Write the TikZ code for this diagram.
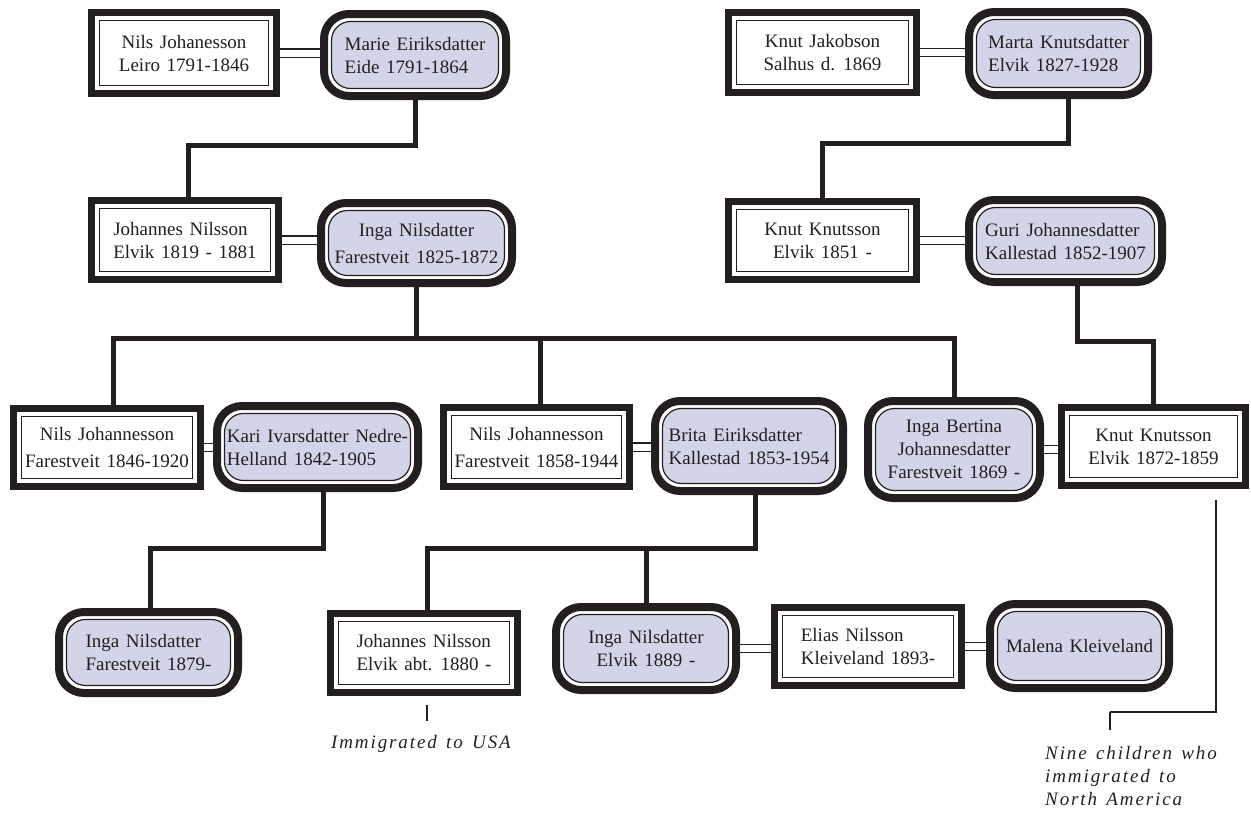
\documentclass[tikz,border=0pt]{standalone}
\usepackage{fontspec}
\setmainfont{Liberation Serif}[WordSpace=1.4]
\newfontfamily\notefont{Liberation Serif}[LetterSpace=10,WordSpace=1.4]
\usetikzlibrary{calc}
\definecolor{lav}{HTML}{D4D4E8}
\definecolor{ink}{HTML}{231F20}
\tikzset{
  sz/.style 2 args={minimum width=#1pt, minimum height=#2pt},
  person/.style={rectangle, draw=ink, fill=white, inner sep=0pt,
    text=ink, font=\fontsize{19}{23}\selectfont, align=center},
  man/.style={person, line width=6.5pt,
    path picture={\draw[ink, line width=1.2pt, sharp corners]
      ([xshift=8.25pt,yshift=-8.25pt]path picture bounding box.north west) rectangle
      ([xshift=-8.25pt,yshift=8.25pt]path picture bounding box.south east);}},
  woman/.style={person, line width=8pt, rounded corners=25pt,
    path picture={\draw[ink, fill=lav, line width=1.2pt, rounded corners=19pt]
      ([xshift=7.5pt,yshift=-7.5pt]path picture bounding box.north west) rectangle
      ([xshift=-7.5pt,yshift=7.5pt]path picture bounding box.south east);}},
  wide/.style={font=\fontsize{19}{27}\selectfont},
  kid/.style={draw=ink, line width=5pt},
  marry/.style={draw=ink, line width=1.3pt, double=white, double distance=7pt},
  thinline/.style={draw=ink, line width=1.3pt},
  tick/.style={draw=ink, line width=2.6pt},
  note/.style={text=ink, font=\notefont\itshape\fontsize{19}{23}\selectfont, inner sep=0pt}
}
\begin{document}
\begin{tikzpicture}[x=1pt,y=-1pt]
\useasboundingbox (0,0) rectangle (1251,814);
% row 1
\node[man, sz={185}{81}] (A) at (184,53) {Nils Johanesson\\Leiro 1791-1846};
\node[woman, sz={182}{82}, align=left] (B) at (415,55) {Marie Eiriksdatter\\Eide 1791-1864};
\node[man, sz={188}{80}] (C) at (822.5,52.5) {Knut Jakobson\\Salhus d. 1869};
\node[woman, sz={179}{83}, align=left] (D) at (1058.5,53.5) {Marta Knutsdatter\\Elvik 1827-1928};
% row 2
\node[man, sz={187}{79}, align=left] (E) at (185,240) {Johannes Nilsson\\Elvik 1819 - 1881};
\node[woman, wide, sz={191}{80}] (F) at (416.5,243) {Inga Nilsdatter\\Farestveit 1825-1872};
\node[man, sz={188}{78}] (G) at (822.5,240.5) {Knut Knutsson\\Elvik 1851 -};
\node[woman, sz={193}{82}, align=left] (H) at (1065.5,241) {Guri Johannesdatter\\Kallestad 1852-1907};
% row 3
\node[man, wide, sz={187}{78}] (I) at (107,447.5) {Nils Johannesson\\Farestveit 1846-1920};
\node[woman, sz={201}{82}, align=left] (J) at (317.5,447) {Kari Ivarsdatter Nedre-\\Helland 1842-1905};
\node[man, wide, sz={186}{79}] (K) at (536.5,447) {Nils Johannesson\\Farestveit 1858-1944};
\node[woman, sz={188}{90}, align=left] (L) at (749,446) {Brita Eiriksdatter\\Kallestad 1853-1954};
\node[woman, sz={172}{97}] (M) at (954,449.5) {Inga Bertina\\Johannesdatter\\Farestveit 1869 -};
\node[man, sz={184}{78}] (N) at (1153.5,446.5) {Knut Knutsson\\Elvik 1872-1859};
% row 4
\node[woman, sz={179}{81}, align=left] (O) at (148.5,652.5) {Inga Nilsdatter\\Farestveit 1879-};
\node[man, sz={187}{79}, align=left] (P) at (424,653) {Johannes Nilsson\\Elvik abt. 1880 -};
\node[woman, sz={180}{83}] (Q) at (646,648.5) {Inga Nilsdatter\\Elvik 1889 -};
\node[man, sz={187}{78}, align=left] (R) at (868,646.5) {Elias Nilsson\\Kleiveland 1893-};
\node[woman, sz={179}{84}] (S) at (1079.5,646) {Malena Kleiveland};
% marriages
\draw[marry] (A.east) -- (A.east -| B.west);
\draw[marry] (C.east) -- (C.east -| D.west);
\draw[marry] (E.east) -- (E.east -| F.west);
\draw[marry] (G.east) -- (G.east -| H.west);
\draw[marry] (I.east) -- (I.east -| J.west);
\draw[marry] (K.east) -- (K.east -| L.west);
\draw[marry] (M.east) -- (M.east -| N.west);
\draw[marry] (Q.east) -- (Q.east -| R.west);
\draw[marry] (R.east) -- (R.east -| S.west);
% descent
\draw[kid] (B.south) -- ++(0,45) -| ([xshift=3pt]E.north);
\draw[kid] ([xshift=10pt]D.south) -- ++(0,44) -| (G.north);
\coordinate (f1) at ($(F.south)+(0,51)$);
\draw[kid] ([xshift=6pt]I.north) |- (f1) -- (F.south);
\draw[kid] (F.south) -- (f1) -| (M.north);
\draw[kid] ([xshift=4pt]K.north) -- ([xshift=4pt]K.north |- f1);
\draw[kid] ([xshift=12pt]H.south) -- ++(0,55) -| (N.north);
\draw[kid] ([xshift=6pt]J.south) -- ++(0,56) -| ([xshift=2pt]O.north);
\coordinate (l1) at ($(L.south)+(6,53)$);
\draw[kid] ([xshift=3pt]P.north) |- (l1) -- ([xshift=6pt]L.south);
\draw[kid] (Q.north) -- (Q.north |- l1);
% notes
\coordinate (nb) at (1110,712);
\draw[thinline] ([xshift=62.5pt,yshift=-11pt]N.south) |- (nb);
\draw[tick] (nb) -- ++(0,18);
\draw[tick] ([xshift=3pt,yshift=-9pt]P.south) -- ++(0,16);
\node[note, anchor=base] (usa) at (421,748) {Immigrated to USA};
\node[note, anchor=north west, align=left] (nine) at (1045,746) {Nine children who\\immigrated to\\North America};
\end{tikzpicture}
\end{document}
